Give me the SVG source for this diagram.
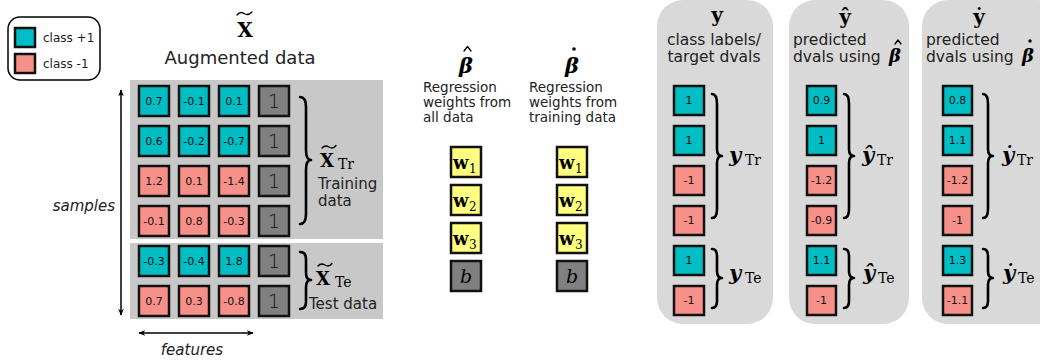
<svg xmlns="http://www.w3.org/2000/svg" width="1040" height="360" viewBox="0 0 1040 360">
<defs>
<marker id="ah" viewBox="0 0 10 10" refX="9" refY="5" markerWidth="7" markerHeight="7" orient="auto-start-reverse" markerUnits="userSpaceOnUse"><path d="M0,1 L10,5 L0,9 L3,5 Z" fill="#000"/></marker>
<style>
.cp{fill:#00BEC4;stroke:#111;stroke-width:2.5}
.cn{fill:#F79088;stroke:#111;stroke-width:2.5}
.cg{fill:#808080;stroke:#111;stroke-width:2.5}
.cy{fill:#FFFF80;stroke:#111;stroke-width:2.5}
.v{font-family:"DejaVu Sans",sans-serif;font-size:11px;fill:#111;text-anchor:middle}
.one{font-family:"DejaVu Sans",sans-serif;font-size:19px;font-weight:300;fill:#111;text-anchor:middle}
.t{font-family:"DejaVu Sans",sans-serif;fill:#222}
.m{font-family:"DejaVu Serif",serif;fill:#000}
.br{fill:none;stroke:#000;stroke-width:2.6;stroke-linecap:round;stroke-linejoin:round}
.acc{fill:none;stroke:#000;stroke-width:1.3;stroke-linecap:round;stroke-linejoin:round}
</style>
</defs>

<g id="legend">
<rect x="8" y="17" width="92" height="63" rx="12" fill="#fff" stroke="#000" stroke-width="1.5"/>
<rect x="15" y="28" width="20" height="19" class="cp" stroke-width="2"/>
<rect x="15" y="54" width="20" height="19" class="cn" stroke-width="2"/>
<text x="43" y="42" class="t" font-size="12">class +1</text>
<text x="43" y="68" class="t" font-size="12">class -1</text>
</g>

<g id="augmented-data">
<text x="245" y="37" class="m" font-size="20" font-weight="bold" text-anchor="middle">X</text>
<path class="acc" d="M237,15 Q240,11 244,13.5 Q248,16 252,12"/>
<text x="240" y="64" class="t" font-size="18" text-anchor="middle">Augmented data</text>
<rect x="130" y="80" width="253" height="159" fill="#C8C8C8"/>
<rect x="130" y="243" width="253" height="76" fill="#C8C8C8"/>
<!-- row 1 -->
<rect x="139" y="86" width="30" height="30" class="cp"/><text x="154" y="105" class="v">0.7</text>
<rect x="179" y="86" width="30" height="30" class="cp"/><text x="194" y="105" class="v">-0.1</text>
<rect x="219" y="86" width="30" height="30" class="cp"/><text x="234" y="105" class="v">0.1</text>
<rect x="259" y="86" width="30" height="30" class="cg"/><text x="274" y="108" class="one">1</text>
<!-- row 2 -->
<rect x="139" y="126" width="30" height="30" class="cp"/><text x="154" y="145" class="v">0.6</text>
<rect x="179" y="126" width="30" height="30" class="cp"/><text x="194" y="145" class="v">-0.2</text>
<rect x="219" y="126" width="30" height="30" class="cp"/><text x="234" y="145" class="v">-0.7</text>
<rect x="259" y="126" width="30" height="30" class="cg"/><text x="274" y="148" class="one">1</text>
<!-- row 3 -->
<rect x="139" y="166" width="30" height="30" class="cn"/><text x="154" y="185" class="v">1.2</text>
<rect x="179" y="166" width="30" height="30" class="cn"/><text x="194" y="185" class="v">0.1</text>
<rect x="219" y="166" width="30" height="30" class="cn"/><text x="234" y="185" class="v">-1.4</text>
<rect x="259" y="166" width="30" height="30" class="cg"/><text x="274" y="188" class="one">1</text>
<!-- row 4 -->
<rect x="139" y="206" width="30" height="30" class="cn"/><text x="154" y="225" class="v">-0.1</text>
<rect x="179" y="206" width="30" height="30" class="cn"/><text x="194" y="225" class="v">0.8</text>
<rect x="219" y="206" width="30" height="30" class="cn"/><text x="234" y="225" class="v">-0.3</text>
<rect x="259" y="206" width="30" height="30" class="cg"/><text x="274" y="228" class="one">1</text>
<!-- test rows -->
<rect x="139" y="246" width="30" height="30" class="cp"/><text x="154" y="265" class="v">-0.3</text>
<rect x="179" y="246" width="30" height="30" class="cp"/><text x="194" y="265" class="v">-0.4</text>
<rect x="219" y="246" width="30" height="30" class="cp"/><text x="234" y="265" class="v">1.8</text>
<rect x="259" y="246" width="30" height="30" class="cg"/><text x="274" y="268" class="one">1</text>
<rect x="139" y="286" width="30" height="30" class="cn"/><text x="154" y="305" class="v">0.7</text>
<rect x="179" y="286" width="30" height="30" class="cn"/><text x="194" y="305" class="v">0.3</text>
<rect x="219" y="286" width="30" height="30" class="cn"/><text x="234" y="305" class="v">-0.8</text>
<rect x="259" y="286" width="30" height="30" class="cg"/><text x="274" y="308" class="one">1</text>
</g>

<g id="train-label">
<path class="br" d="M300,97 Q306,97 306,107 L306,150 Q306,160 311,160 Q306,160 306,170 L306,214 Q306,224 300,224"/>
<text x="320" y="167" class="m" font-size="18" font-weight="bold">X</text>
<path class="acc" d="M322,148 Q325,144.5 329,147 Q333,149.5 336,145.5"/>
<text x="338" y="169" class="m" font-size="14">Tr</text>
<text x="318" y="189" class="t" font-size="15">Training</text>
<text x="318" y="206" class="t" font-size="15">data</text>
</g>

<g id="test-label">
<path class="br" d="M300,252 Q306,252 306,259 L306,273 Q306,280 311,280 Q306,280 306,287 L306,302 Q306,309 300,309"/>
<text x="316" y="285" class="m" font-size="18" font-weight="bold">X</text>
<path class="acc" d="M318,266 Q321,262.5 325,265 Q329,267.5 332,263.5"/>
<text x="335" y="287" class="m" font-size="14">Te</text>
<text x="309" y="309" class="t" font-size="15">Test data</text>
</g>

<g id="axes">
<text x="115" y="211" class="t" font-size="15" font-style="italic" text-anchor="end">samples</text>
<text x="192" y="355" class="t" font-size="15" font-style="italic" text-anchor="middle">features</text>
</g>

<g id="beta-hat">
<text x="466" y="73" class="m" font-size="21" font-weight="bold" font-style="italic" text-anchor="middle">β</text>
<path class="acc" d="M464,51 L467.5,46.5 L471,51"/>
<text x="423" y="92" class="t" font-size="13.5">Regression</text>
<text x="423" y="107" class="t" font-size="13.5">weights from</text>
<text x="423" y="122" class="t" font-size="13.5">all data</text>
<rect x="451" y="147" width="30" height="30" class="cy"/>
<text x="453" y="169" class="m" font-size="18" font-weight="bold">w</text><text x="469" y="173" class="m" font-size="12">1</text>
<rect x="451" y="185" width="30" height="30" class="cy"/>
<text x="453" y="207" class="m" font-size="18" font-weight="bold">w</text><text x="469" y="211" class="m" font-size="12">2</text>
<rect x="451" y="223" width="30" height="30" class="cy"/>
<text x="453" y="245" class="m" font-size="18" font-weight="bold">w</text><text x="469" y="249" class="m" font-size="12">3</text>
<rect x="451" y="261" width="30" height="30" class="cg"/>
<text x="466" y="283" class="m" font-size="19" font-style="italic" text-anchor="middle">b</text>
</g>

<g id="beta-dot">
<text x="572" y="73" class="m" font-size="21" font-weight="bold" font-style="italic" text-anchor="middle">β</text>
<circle cx="574" cy="49" r="1.8" fill="#000"/>
<text x="529" y="92" class="t" font-size="13.5">Regression</text>
<text x="529" y="107" class="t" font-size="13.5">weights from</text>
<text x="529" y="122" class="t" font-size="13.5">training data</text>
<rect x="557" y="147" width="30" height="30" class="cy"/>
<text x="559" y="169" class="m" font-size="18" font-weight="bold">w</text><text x="575" y="173" class="m" font-size="12">1</text>
<rect x="557" y="185" width="30" height="30" class="cy"/>
<text x="559" y="207" class="m" font-size="18" font-weight="bold">w</text><text x="575" y="211" class="m" font-size="12">2</text>
<rect x="557" y="223" width="30" height="30" class="cy"/>
<text x="559" y="245" class="m" font-size="18" font-weight="bold">w</text><text x="575" y="249" class="m" font-size="12">3</text>
<rect x="557" y="261" width="30" height="30" class="cg"/>
<text x="572" y="283" class="m" font-size="19" font-style="italic" text-anchor="middle">b</text>
</g>

<g id="panel-y">
<rect x="657" y="0" width="116" height="324" rx="26" fill="#D9D9D9"/>
<text x="717" y="22" class="m" font-size="20" font-weight="bold" text-anchor="middle">y</text>
<text x="714" y="45" class="t" font-size="15.5" text-anchor="middle">class labels/</text>
<text x="714" y="62" class="t" font-size="15.5" text-anchor="middle">target dvals</text>
<rect x="674" y="86" width="30" height="29" class="cp"/><text x="689" y="104" class="v">1</text>
<rect x="674" y="126" width="30" height="29" class="cp"/><text x="689" y="144" class="v">1</text>
<rect x="674" y="166" width="30" height="29" class="cn"/><text x="689" y="184" class="v">-1</text>
<rect x="674" y="206" width="30" height="29" class="cn"/><text x="689" y="224" class="v">-1</text>
<rect x="674" y="246" width="30" height="29" class="cp"/><text x="689" y="264" class="v">1</text>
<rect x="674" y="286" width="30" height="29" class="cn"/><text x="689" y="304" class="v">-1</text>
<path class="br" d="M712,94 Q717,94 717,104 L717,149 Q717,156 722,156 Q717,156 717,163 L717,209 Q717,218 712,218"/>
<text x="729" y="162" class="m" font-size="21" font-weight="bold" font-style="italic">y</text>
<text x="745" y="165" class="m" font-size="14">Tr</text>
<path class="br" d="M712,249 Q717,249 717,256 L717,271 Q717,278 722,278 Q717,278 717,285 L717,301 Q717,308 712,308"/>
<text x="729" y="280" class="m" font-size="21" font-weight="bold" font-style="italic">y</text>
<text x="745" y="283" class="m" font-size="14">Te</text>
</g>

<g id="panel-yhat">
<rect x="789" y="0" width="120" height="324" rx="26" fill="#D9D9D9"/>
<text x="845" y="24" class="m" font-size="20" font-weight="bold" text-anchor="middle">ŷ</text>
<text x="793" y="45" class="t" font-size="15.5">predicted</text>
<text x="793" y="62" class="t" font-size="15.5">dvals using</text>
<text x="889" y="62" class="m" font-size="18" font-weight="bold" font-style="italic">β</text>
<path class="acc" d="M895,44 L898,40 L901,44"/>
<rect x="807" y="86" width="29" height="29" class="cp"/><text x="821.5" y="104" class="v">0.9</text>
<rect x="807" y="126" width="29" height="29" class="cp"/><text x="821.5" y="144" class="v">1</text>
<rect x="807" y="166" width="29" height="29" class="cn"/><text x="821.5" y="184" class="v">-1.2</text>
<rect x="807" y="206" width="29" height="29" class="cn"/><text x="821.5" y="224" class="v">-0.9</text>
<rect x="807" y="246" width="29" height="29" class="cp"/><text x="821.5" y="264" class="v">1.1</text>
<rect x="807" y="286" width="29" height="29" class="cn"/><text x="821.5" y="304" class="v">-1</text>
<path class="br" d="M844,94 Q849,94 849,104 L849,149 Q849,156 854,156 Q849,156 849,163 L849,209 Q849,218 844,218"/>
<text x="862" y="162" class="m" font-size="21" font-weight="bold" font-style="italic">ŷ</text>
<text x="877" y="165" class="m" font-size="14">Tr</text>
<path class="br" d="M844,249 Q849,249 849,256 L849,271 Q849,278 854,278 Q849,278 849,285 L849,301 Q849,308 844,308"/>
<text x="863" y="280" class="m" font-size="21" font-weight="bold" font-style="italic">ŷ</text>
<text x="878" y="283" class="m" font-size="14">Te</text>
</g>

<g id="panel-ydot">
<rect x="922" y="0" width="140" height="324" rx="26" fill="#D9D9D9"/>
<text x="979" y="24" class="m" font-size="20" font-weight="bold" text-anchor="middle">ẏ</text>
<text x="926" y="45" class="t" font-size="15.5">predicted</text>
<text x="926" y="62" class="t" font-size="15.5">dvals using</text>
<text x="1022" y="62" class="m" font-size="18" font-weight="bold" font-style="italic">β</text>
<circle cx="1030" cy="41" r="1.7" fill="#000"/>
<rect x="943" y="86" width="29" height="29" class="cp"/><text x="957.5" y="104" class="v">0.8</text>
<rect x="943" y="126" width="29" height="29" class="cp"/><text x="957.5" y="144" class="v">1.1</text>
<rect x="943" y="166" width="29" height="29" class="cn"/><text x="957.5" y="184" class="v">-1.2</text>
<rect x="943" y="206" width="29" height="29" class="cn"/><text x="957.5" y="224" class="v">-1</text>
<rect x="943" y="246" width="29" height="29" class="cp"/><text x="957.5" y="264" class="v">1.3</text>
<rect x="943" y="286" width="29" height="29" class="cn"/><text x="957.5" y="304" class="v">-1.1</text>
<path class="br" d="M983,94 Q988,94 988,104 L988,149 Q988,156 993,156 Q988,156 988,163 L988,209 Q988,218 983,218"/>
<text x="1002" y="162" class="m" font-size="21" font-weight="bold" font-style="italic">ẏ</text>
<text x="1017" y="165" class="m" font-size="14">Tr</text>
<path class="br" d="M983,249 Q988,249 988,256 L988,271 Q988,278 993,278 Q988,278 988,285 L988,301 Q988,308 983,308"/>
<text x="1003" y="280" class="m" font-size="21" font-weight="bold" font-style="italic">ẏ</text>
<text x="1018" y="283" class="m" font-size="14">Te</text>
</g>

<g id="connectors">
<line x1="121" y1="90" x2="121" y2="315" stroke="#000" stroke-width="1.5" marker-start="url(#ah)" marker-end="url(#ah)"/>
<line x1="139" y1="333" x2="253" y2="333" stroke="#000" stroke-width="1.5" marker-start="url(#ah)" marker-end="url(#ah)"/>
</g>
</svg>
